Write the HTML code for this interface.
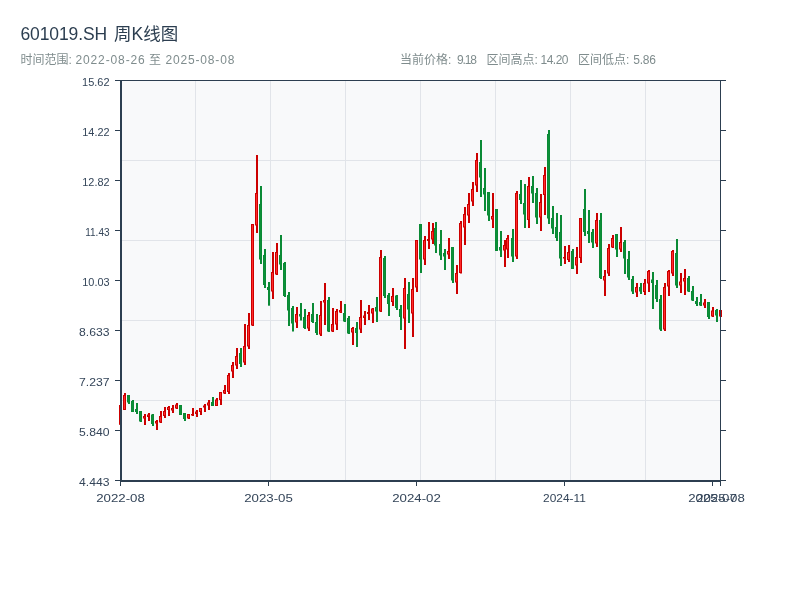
<!DOCTYPE html><html lang="zh"><head><meta charset="utf-8"><title>601019.SH 周K线图</title>
<style>html,body{margin:0;padding:0;background:#fff;}body{width:800px;height:600px;overflow:hidden;font-family:"Liberation Sans","Noto Sans CJK SC",sans-serif;}svg{display:block;}text{font-family:"Liberation Sans","Noto Sans CJK SC",sans-serif;}</style></head><body>
<svg width="800" height="600" viewBox="0 0 800 600">
<rect width="800" height="600" fill="#ffffff"/>
<text y="40.1" font-size="17.5" fill="#2c3e50"><tspan x="20.5" textLength="86.6" lengthAdjust="spacing">601019.SH</tspan><tspan x="114" textLength="64.2" lengthAdjust="spacing">周K线图</tspan></text>
<text y="63.5" font-size="12" fill="#7f8c8d"><tspan x="20.5">时间范围:</tspan><tspan x="75.4" textLength="69.4" lengthAdjust="spacing">2022-08-26</tspan><tspan x="149">至</tspan><tspan x="165.4" textLength="69" lengthAdjust="spacing">2025-08-08</tspan></text>
<text y="63.5" font-size="12" fill="#7f8c8d"><tspan x="400">当前价格:</tspan><tspan x="457" textLength="20" lengthAdjust="spacing">9.18</tspan></text>
<text y="63.5" font-size="12" fill="#7f8c8d"><tspan x="486.5">区间高点:</tspan><tspan x="540.5" textLength="28" lengthAdjust="spacing">14.20</tspan></text>
<text y="63.5" font-size="12" fill="#7f8c8d"><tspan x="578">区间低点:</tspan><tspan x="633.3" textLength="22.7" lengthAdjust="spacing">5.86</tspan></text>
<rect x="121" y="80" width="600" height="401" fill="#f8f9fa"/>
<rect x="195" y="81" width="1" height="399" fill="#e1e4e9"/><rect x="270" y="81" width="1" height="399" fill="#e1e4e9"/><rect x="345" y="81" width="1" height="399" fill="#e1e4e9"/><rect x="420" y="81" width="1" height="399" fill="#e1e4e9"/><rect x="495" y="81" width="1" height="399" fill="#e1e4e9"/><rect x="570" y="81" width="1" height="399" fill="#e1e4e9"/><rect x="645" y="81" width="1" height="399" fill="#e1e4e9"/><rect x="122" y="160" width="598" height="1" fill="#e1e4e9"/><rect x="122" y="240" width="598" height="1" fill="#e1e4e9"/><rect x="122" y="320" width="598" height="1" fill="#e1e4e9"/><rect x="122" y="400" width="598" height="1" fill="#e1e4e9"/>
<g><rect x="120" y="403" width="2" height="23" fill="#cc0000"/><rect x="119" y="405" width="3" height="19.8" fill="#cc0000"/><rect x="120" y="406" width="1" height="17.8" fill="#ff2a2a"/><rect x="124" y="393" width="2" height="17" fill="#cc0000"/><rect x="123" y="395" width="3" height="15" fill="#cc0000"/><rect x="124" y="396" width="1" height="13" fill="#ff2a2a"/><rect x="128" y="395" width="2" height="9" fill="#0a8a35"/><rect x="127" y="395" width="3" height="7.5" fill="#0a8a35"/><rect x="128" y="396" width="1" height="5.5" fill="#0c9038"/><rect x="132" y="400" width="2" height="12" fill="#0a8a35"/><rect x="131" y="401" width="3" height="11" fill="#0a8a35"/><rect x="132" y="402" width="1" height="9" fill="#0c9038"/><rect x="136" y="403" width="2" height="11" fill="#0a8a35"/><rect x="135" y="409" width="3" height="3" fill="#0a8a35"/><rect x="136" y="410" width="1" height="1" fill="#0c9038"/><rect x="140" y="411" width="2" height="11" fill="#0a8a35"/><rect x="139" y="411" width="3" height="10.5" fill="#0a8a35"/><rect x="140" y="412" width="1" height="8.5" fill="#0c9038"/><rect x="144" y="414" width="2" height="11" fill="#cc0000"/><rect x="143" y="416" width="3" height="2.5" fill="#cc0000"/><rect x="144" y="417" width="1" height="0.5" fill="#ff2a2a"/><rect x="148" y="413" width="2" height="8" fill="#cc0000"/><rect x="147" y="414.5" width="3" height="2.5" fill="#cc0000"/><rect x="148" y="415.5" width="1" height="0.5" fill="#ff2a2a"/><rect x="152" y="414" width="2" height="12" fill="#0a8a35"/><rect x="151" y="414.5" width="3" height="9.5" fill="#0a8a35"/><rect x="152" y="415.5" width="1" height="7.5" fill="#0c9038"/><rect x="156" y="420" width="2" height="10" fill="#cc0000"/><rect x="155" y="421" width="3" height="2.5" fill="#cc0000"/><rect x="156" y="422" width="1" height="0.5" fill="#ff2a2a"/><rect x="160" y="411" width="2" height="12" fill="#cc0000"/><rect x="159" y="416" width="3" height="6.5" fill="#cc0000"/><rect x="160" y="417" width="1" height="4.5" fill="#ff2a2a"/><rect x="164" y="407" width="2" height="11" fill="#cc0000"/><rect x="163" y="411" width="3" height="5" fill="#cc0000"/><rect x="164" y="412" width="1" height="3" fill="#ff2a2a"/><rect x="168" y="406" width="2" height="10" fill="#cc0000"/><rect x="167" y="407" width="3" height="3" fill="#cc0000"/><rect x="168" y="408" width="1" height="1" fill="#ff2a2a"/><rect x="172" y="405" width="2" height="8" fill="#cc0000"/><rect x="171" y="408" width="3" height="2.5" fill="#cc0000"/><rect x="172" y="409" width="1" height="0.5" fill="#ff2a2a"/><rect x="176" y="403" width="2" height="6" fill="#cc0000"/><rect x="175" y="404.5" width="3" height="4" fill="#cc0000"/><rect x="176" y="405.5" width="1" height="2" fill="#ff2a2a"/><rect x="180" y="405" width="2" height="10" fill="#0a8a35"/><rect x="179" y="405" width="3" height="10" fill="#0a8a35"/><rect x="180" y="406" width="1" height="8" fill="#0c9038"/><rect x="184" y="413" width="2" height="8" fill="#0a8a35"/><rect x="183" y="413" width="3" height="6" fill="#0a8a35"/><rect x="184" y="414" width="1" height="4" fill="#0c9038"/><rect x="188" y="414" width="2" height="5" fill="#cc0000"/><rect x="187" y="414" width="3" height="4.5" fill="#cc0000"/><rect x="188" y="415" width="1" height="2.5" fill="#ff2a2a"/><rect x="192" y="408" width="2" height="8" fill="#cc0000"/><rect x="191" y="414" width="3" height="1.5" fill="#cc0000"/><rect x="196" y="410" width="2" height="7" fill="#cc0000"/><rect x="195" y="411.5" width="3" height="2.5" fill="#cc0000"/><rect x="196" y="412.5" width="1" height="0.5" fill="#ff2a2a"/><rect x="200" y="408" width="2" height="7" fill="#cc0000"/><rect x="199" y="408" width="3" height="4" fill="#cc0000"/><rect x="200" y="409" width="1" height="2" fill="#ff2a2a"/><rect x="204" y="404" width="2" height="8" fill="#cc0000"/><rect x="203" y="405.5" width="3" height="2" fill="#cc0000"/><rect x="208" y="400" width="2" height="10" fill="#cc0000"/><rect x="207" y="402.5" width="3" height="3" fill="#cc0000"/><rect x="208" y="403.5" width="1" height="1" fill="#ff2a2a"/><rect x="212" y="397" width="2" height="9" fill="#0a8a35"/><rect x="211" y="402" width="3" height="4" fill="#0a8a35"/><rect x="212" y="403" width="1" height="2" fill="#0c9038"/><rect x="216" y="398" width="2" height="8" fill="#cc0000"/><rect x="215" y="399.5" width="3" height="6.5" fill="#cc0000"/><rect x="216" y="400.5" width="1" height="4.5" fill="#ff2a2a"/><rect x="220" y="392" width="2" height="13" fill="#cc0000"/><rect x="219" y="392" width="3" height="8" fill="#cc0000"/><rect x="220" y="393" width="1" height="6" fill="#ff2a2a"/><rect x="224" y="385" width="2" height="9" fill="#cc0000"/><rect x="223" y="390" width="3" height="3.5" fill="#cc0000"/><rect x="224" y="391" width="1" height="1.5" fill="#ff2a2a"/><rect x="228" y="373" width="2" height="21" fill="#cc0000"/><rect x="227" y="375" width="3" height="17" fill="#cc0000"/><rect x="228" y="376" width="1" height="15" fill="#ff2a2a"/><rect x="232" y="362" width="2" height="16" fill="#cc0000"/><rect x="231" y="365" width="3" height="6.5" fill="#cc0000"/><rect x="232" y="366" width="1" height="4.5" fill="#ff2a2a"/><rect x="236" y="348" width="2" height="21" fill="#cc0000"/><rect x="235" y="356" width="3" height="9.5" fill="#cc0000"/><rect x="236" y="357" width="1" height="7.5" fill="#ff2a2a"/><rect x="240" y="348" width="2" height="19" fill="#0a8a35"/><rect x="239" y="353" width="3" height="11" fill="#0a8a35"/><rect x="240" y="354" width="1" height="9" fill="#0c9038"/><rect x="244" y="324" width="2" height="41" fill="#cc0000"/><rect x="243" y="346" width="3" height="16.5" fill="#cc0000"/><rect x="244" y="347" width="1" height="14.5" fill="#ff2a2a"/><rect x="248" y="313" width="2" height="36" fill="#cc0000"/><rect x="247" y="325" width="3" height="21.5" fill="#cc0000"/><rect x="248" y="326" width="1" height="19.5" fill="#ff2a2a"/><rect x="252" y="224" width="2" height="102" fill="#cc0000"/><rect x="251" y="224" width="3" height="101.5" fill="#cc0000"/><rect x="252" y="225" width="1" height="99.5" fill="#ff2a2a"/><rect x="256" y="155" width="2" height="78" fill="#cc0000"/><rect x="255" y="193" width="3" height="32.5" fill="#cc0000"/><rect x="256" y="194" width="1" height="30.5" fill="#ff2a2a"/><rect x="260" y="186" width="2" height="78" fill="#0a8a35"/><rect x="259" y="204" width="3" height="55.5" fill="#0a8a35"/><rect x="260" y="205" width="1" height="53.5" fill="#0c9038"/><rect x="264" y="249" width="2" height="39" fill="#0a8a35"/><rect x="263" y="255" width="3" height="30" fill="#0a8a35"/><rect x="264" y="256" width="1" height="28" fill="#0c9038"/><rect x="268" y="282" width="2" height="23.7" fill="#0a8a35"/><rect x="267" y="287" width="3" height="3" fill="#0a8a35"/><rect x="268" y="288" width="1" height="1" fill="#0c9038"/><rect x="272" y="252" width="2" height="47" fill="#cc0000"/><rect x="271" y="272" width="3" height="19.5" fill="#cc0000"/><rect x="272" y="273" width="1" height="17.5" fill="#ff2a2a"/><rect x="276" y="243" width="2" height="32" fill="#cc0000"/><rect x="275" y="252" width="3" height="22.5" fill="#cc0000"/><rect x="276" y="253" width="1" height="20.5" fill="#ff2a2a"/><rect x="280" y="235" width="2" height="35" fill="#0a8a35"/><rect x="279" y="255" width="3" height="9.5" fill="#0a8a35"/><rect x="280" y="256" width="1" height="7.5" fill="#0c9038"/><rect x="284" y="262" width="2" height="35" fill="#0a8a35"/><rect x="283" y="263" width="3" height="33" fill="#0a8a35"/><rect x="284" y="264" width="1" height="31" fill="#0c9038"/><rect x="288" y="292" width="2" height="34" fill="#0a8a35"/><rect x="287" y="295" width="3" height="15.5" fill="#0a8a35"/><rect x="288" y="296" width="1" height="13.5" fill="#0c9038"/><rect x="292" y="306" width="2" height="25.5" fill="#0a8a35"/><rect x="291" y="308" width="3" height="15.5" fill="#0a8a35"/><rect x="292" y="309" width="1" height="13.5" fill="#0c9038"/><rect x="296" y="307" width="2" height="21" fill="#cc0000"/><rect x="295" y="314" width="3" height="8.5" fill="#cc0000"/><rect x="296" y="315" width="1" height="6.5" fill="#ff2a2a"/><rect x="300" y="303" width="2" height="17.5" fill="#0a8a35"/><rect x="299" y="314" width="3" height="2.5" fill="#0a8a35"/><rect x="300" y="315" width="1" height="0.5" fill="#0c9038"/><rect x="304" y="309" width="2" height="20" fill="#0a8a35"/><rect x="303" y="317" width="3" height="11" fill="#0a8a35"/><rect x="304" y="318" width="1" height="9" fill="#0c9038"/><rect x="308" y="312" width="2" height="19" fill="#cc0000"/><rect x="307" y="315" width="3" height="13.5" fill="#cc0000"/><rect x="308" y="316" width="1" height="11.5" fill="#ff2a2a"/><rect x="312" y="303" width="2" height="20" fill="#0a8a35"/><rect x="311" y="314" width="3" height="8" fill="#0a8a35"/><rect x="312" y="315" width="1" height="6" fill="#0c9038"/><rect x="316" y="314" width="2" height="21" fill="#0a8a35"/><rect x="315" y="322" width="3" height="11" fill="#0a8a35"/><rect x="316" y="323" width="1" height="9" fill="#0c9038"/><rect x="320" y="301" width="2" height="35" fill="#cc0000"/><rect x="319" y="315" width="3" height="19.5" fill="#cc0000"/><rect x="320" y="316" width="1" height="17.5" fill="#ff2a2a"/><rect x="324" y="283" width="2" height="42" fill="#cc0000"/><rect x="323" y="300" width="3" height="2.5" fill="#cc0000"/><rect x="324" y="301" width="1" height="0.5" fill="#ff2a2a"/><rect x="328" y="297" width="2" height="35" fill="#0a8a35"/><rect x="327" y="300" width="3" height="31.5" fill="#0a8a35"/><rect x="328" y="301" width="1" height="29.5" fill="#0c9038"/><rect x="332" y="308" width="2" height="24" fill="#cc0000"/><rect x="331" y="324" width="3" height="7.5" fill="#cc0000"/><rect x="332" y="325" width="1" height="5.5" fill="#ff2a2a"/><rect x="336" y="309" width="2" height="21" fill="#cc0000"/><rect x="335" y="311" width="3" height="13.5" fill="#cc0000"/><rect x="336" y="312" width="1" height="11.5" fill="#ff2a2a"/><rect x="340" y="301" width="2" height="12" fill="#cc0000"/><rect x="339" y="310" width="3" height="2.5" fill="#cc0000"/><rect x="340" y="311" width="1" height="0.5" fill="#ff2a2a"/><rect x="344" y="304" width="2" height="18" fill="#0a8a35"/><rect x="343" y="313" width="3" height="8.5" fill="#0a8a35"/><rect x="344" y="314" width="1" height="6.5" fill="#0c9038"/><rect x="348" y="316" width="2" height="18" fill="#0a8a35"/><rect x="347" y="318" width="3" height="15.5" fill="#0a8a35"/><rect x="348" y="319" width="1" height="13.5" fill="#0c9038"/><rect x="352" y="327" width="2" height="18" fill="#cc0000"/><rect x="351" y="328" width="3" height="4.5" fill="#cc0000"/><rect x="352" y="329" width="1" height="2.5" fill="#ff2a2a"/><rect x="356" y="322" width="2" height="25" fill="#0a8a35"/><rect x="355" y="328" width="3" height="5" fill="#0a8a35"/><rect x="356" y="329" width="1" height="3" fill="#0c9038"/><rect x="360" y="300" width="2" height="33" fill="#cc0000"/><rect x="359" y="317" width="3" height="12.5" fill="#cc0000"/><rect x="360" y="318" width="1" height="10.5" fill="#ff2a2a"/><rect x="364" y="311" width="2" height="14" fill="#cc0000"/><rect x="363" y="315.5" width="3" height="2.5" fill="#cc0000"/><rect x="364" y="316.5" width="1" height="0.5" fill="#ff2a2a"/><rect x="368" y="305" width="2" height="15" fill="#cc0000"/><rect x="367" y="312" width="3" height="2" fill="#cc0000"/><rect x="372" y="308" width="2" height="15" fill="#cc0000"/><rect x="371" y="308.5" width="3" height="5" fill="#cc0000"/><rect x="372" y="309.5" width="1" height="3" fill="#ff2a2a"/><rect x="376" y="297" width="2" height="25" fill="#0a8a35"/><rect x="375" y="307" width="3" height="4.5" fill="#0a8a35"/><rect x="376" y="308" width="1" height="2.5" fill="#0c9038"/><rect x="380" y="250" width="2" height="62" fill="#cc0000"/><rect x="379" y="257" width="3" height="54.5" fill="#cc0000"/><rect x="380" y="258" width="1" height="52.5" fill="#ff2a2a"/><rect x="384" y="256" width="2" height="42" fill="#0a8a35"/><rect x="383" y="258" width="3" height="38" fill="#0a8a35"/><rect x="384" y="259" width="1" height="36" fill="#0c9038"/><rect x="388" y="293" width="2" height="23" fill="#0a8a35"/><rect x="387" y="295" width="3" height="9" fill="#0a8a35"/><rect x="388" y="296" width="1" height="7" fill="#0c9038"/><rect x="392" y="288" width="2" height="18" fill="#cc0000"/><rect x="391" y="296" width="3" height="6" fill="#cc0000"/><rect x="392" y="297" width="1" height="4" fill="#ff2a2a"/><rect x="396" y="295" width="2" height="15" fill="#0a8a35"/><rect x="395" y="295.5" width="3" height="12.5" fill="#0a8a35"/><rect x="396" y="296.5" width="1" height="10.5" fill="#0c9038"/><rect x="400" y="305" width="2" height="25" fill="#0a8a35"/><rect x="399" y="309" width="3" height="8" fill="#0a8a35"/><rect x="400" y="310" width="1" height="6" fill="#0c9038"/><rect x="404" y="278" width="2" height="71" fill="#cc0000"/><rect x="403" y="288" width="3" height="30.5" fill="#cc0000"/><rect x="404" y="289" width="1" height="28.5" fill="#ff2a2a"/><rect x="408" y="282" width="2" height="41" fill="#0a8a35"/><rect x="407" y="294" width="3" height="15.5" fill="#0a8a35"/><rect x="408" y="295" width="1" height="13.5" fill="#0c9038"/><rect x="412" y="278" width="2" height="59" fill="#cc0000"/><rect x="411" y="289" width="3" height="24.5" fill="#cc0000"/><rect x="412" y="290" width="1" height="22.5" fill="#ff2a2a"/><rect x="416" y="240" width="2" height="52" fill="#cc0000"/><rect x="415" y="240" width="3" height="47.5" fill="#cc0000"/><rect x="416" y="241" width="1" height="45.5" fill="#ff2a2a"/><rect x="420" y="224" width="2" height="49" fill="#0a8a35"/><rect x="419" y="224" width="3" height="35.5" fill="#0a8a35"/><rect x="420" y="225" width="1" height="33.5" fill="#0c9038"/><rect x="424" y="236" width="2" height="29" fill="#cc0000"/><rect x="423" y="240" width="3" height="19.5" fill="#cc0000"/><rect x="424" y="241" width="1" height="17.5" fill="#ff2a2a"/><rect x="428" y="222" width="2" height="27" fill="#cc0000"/><rect x="427" y="239" width="3" height="2" fill="#cc0000"/><rect x="432" y="223" width="2" height="21" fill="#cc0000"/><rect x="431" y="231" width="3" height="8.5" fill="#cc0000"/><rect x="432" y="232" width="1" height="6.5" fill="#ff2a2a"/><rect x="435" y="222" width="2" height="31" fill="#0a8a35"/><rect x="434" y="228" width="3" height="17.5" fill="#0a8a35"/><rect x="435" y="229" width="1" height="15.5" fill="#0c9038"/><rect x="440" y="230" width="2" height="30" fill="#0a8a35"/><rect x="439" y="244" width="3" height="11.5" fill="#0a8a35"/><rect x="440" y="245" width="1" height="9.5" fill="#0c9038"/><rect x="444" y="249" width="2" height="21" fill="#0a8a35"/><rect x="443" y="253" width="3" height="3.5" fill="#0a8a35"/><rect x="444" y="254" width="1" height="1.5" fill="#0c9038"/><rect x="448" y="238" width="2" height="21" fill="#cc0000"/><rect x="447" y="251" width="3" height="3.5" fill="#cc0000"/><rect x="448" y="252" width="1" height="1.5" fill="#ff2a2a"/><rect x="452" y="247" width="2" height="36" fill="#0a8a35"/><rect x="451" y="247" width="3" height="33.5" fill="#0a8a35"/><rect x="452" y="248" width="1" height="31.5" fill="#0c9038"/><rect x="456" y="265" width="2" height="29" fill="#cc0000"/><rect x="455" y="273" width="3" height="9.5" fill="#cc0000"/><rect x="456" y="274" width="1" height="7.5" fill="#ff2a2a"/><rect x="460" y="221" width="2" height="52.5" fill="#cc0000"/><rect x="459" y="223" width="3" height="50" fill="#cc0000"/><rect x="460" y="224" width="1" height="48" fill="#ff2a2a"/><rect x="464" y="207" width="2" height="38" fill="#cc0000"/><rect x="463" y="214" width="3" height="13.5" fill="#cc0000"/><rect x="464" y="215" width="1" height="11.5" fill="#ff2a2a"/><rect x="468" y="193" width="2" height="30" fill="#cc0000"/><rect x="467" y="204" width="3" height="11.5" fill="#cc0000"/><rect x="468" y="205" width="1" height="9.5" fill="#ff2a2a"/><rect x="472" y="182" width="2" height="24" fill="#cc0000"/><rect x="471" y="189" width="3" height="12.5" fill="#cc0000"/><rect x="472" y="190" width="1" height="10.5" fill="#ff2a2a"/><rect x="476" y="153" width="2" height="39" fill="#cc0000"/><rect x="475" y="160" width="3" height="25.5" fill="#cc0000"/><rect x="476" y="161" width="1" height="23.5" fill="#ff2a2a"/><rect x="480" y="140" width="2" height="57" fill="#0a8a35"/><rect x="479" y="162" width="3" height="15.5" fill="#0a8a35"/><rect x="480" y="163" width="1" height="13.5" fill="#0c9038"/><rect x="484" y="168" width="2" height="43" fill="#0a8a35"/><rect x="483" y="188" width="3" height="6.5" fill="#0a8a35"/><rect x="484" y="189" width="1" height="4.5" fill="#0c9038"/><rect x="488" y="192" width="2" height="29" fill="#0a8a35"/><rect x="487" y="192" width="3" height="23.5" fill="#0a8a35"/><rect x="488" y="193" width="1" height="21.5" fill="#0c9038"/><rect x="492" y="193" width="2" height="35" fill="#cc0000"/><rect x="491" y="216" width="3" height="3.5" fill="#cc0000"/><rect x="492" y="217" width="1" height="1.5" fill="#ff2a2a"/><rect x="496" y="209" width="2" height="42" fill="#0a8a35"/><rect x="495" y="209" width="3" height="42" fill="#0a8a35"/><rect x="496" y="210" width="1" height="40" fill="#0c9038"/><rect x="500" y="231" width="2" height="26" fill="#0a8a35"/><rect x="499" y="247" width="3" height="3.5" fill="#0a8a35"/><rect x="500" y="248" width="1" height="1.5" fill="#0c9038"/><rect x="504" y="240" width="2" height="27" fill="#cc0000"/><rect x="503" y="245" width="3" height="5.5" fill="#cc0000"/><rect x="504" y="246" width="1" height="3.5" fill="#ff2a2a"/><rect x="507" y="235" width="2" height="23" fill="#cc0000"/><rect x="506" y="238" width="3" height="11.5" fill="#cc0000"/><rect x="507" y="239" width="1" height="9.5" fill="#ff2a2a"/><rect x="512" y="229" width="2" height="33" fill="#0a8a35"/><rect x="511" y="238" width="3" height="18.5" fill="#0a8a35"/><rect x="512" y="239" width="1" height="16.5" fill="#0c9038"/><rect x="516" y="191" width="2" height="68" fill="#cc0000"/><rect x="515" y="193" width="3" height="63.5" fill="#cc0000"/><rect x="516" y="194" width="1" height="61.5" fill="#ff2a2a"/><rect x="520" y="180" width="2" height="24" fill="#0a8a35"/><rect x="519" y="194" width="3" height="6" fill="#0a8a35"/><rect x="520" y="195" width="1" height="4" fill="#0c9038"/><rect x="524" y="184" width="2" height="44" fill="#0a8a35"/><rect x="523" y="203" width="3" height="11.5" fill="#0a8a35"/><rect x="524" y="204" width="1" height="9.5" fill="#0c9038"/><rect x="528" y="177" width="2" height="51" fill="#cc0000"/><rect x="527" y="186" width="3" height="34" fill="#cc0000"/><rect x="528" y="187" width="1" height="32" fill="#ff2a2a"/><rect x="532" y="176" width="2" height="27" fill="#0a8a35"/><rect x="531" y="186" width="3" height="7.5" fill="#0a8a35"/><rect x="532" y="187" width="1" height="5.5" fill="#0c9038"/><rect x="536" y="188" width="2" height="36" fill="#0a8a35"/><rect x="535" y="193" width="3" height="24.5" fill="#0a8a35"/><rect x="536" y="194" width="1" height="22.5" fill="#0c9038"/><rect x="540" y="194" width="2" height="37" fill="#cc0000"/><rect x="539" y="202" width="3" height="15.5" fill="#cc0000"/><rect x="540" y="203" width="1" height="13.5" fill="#ff2a2a"/><rect x="544" y="167" width="2" height="48" fill="#cc0000"/><rect x="543" y="175" width="3" height="20" fill="#cc0000"/><rect x="544" y="176" width="1" height="18" fill="#ff2a2a"/><rect x="548" y="130" width="2" height="94" fill="#0a8a35"/><rect x="547" y="134" width="3" height="84.5" fill="#0a8a35"/><rect x="548" y="135" width="1" height="82.5" fill="#0c9038"/><rect x="552" y="206" width="2" height="28" fill="#0a8a35"/><rect x="551" y="218" width="3" height="10.5" fill="#0a8a35"/><rect x="552" y="219" width="1" height="8.5" fill="#0c9038"/><rect x="556" y="213" width="2" height="28" fill="#0a8a35"/><rect x="555" y="227" width="3" height="11" fill="#0a8a35"/><rect x="556" y="228" width="1" height="9" fill="#0c9038"/><rect x="560" y="215" width="2" height="51" fill="#0a8a35"/><rect x="559" y="232" width="3" height="26.5" fill="#0a8a35"/><rect x="560" y="233" width="1" height="24.5" fill="#0c9038"/><rect x="564" y="246" width="2" height="18" fill="#cc0000"/><rect x="563" y="257" width="3" height="1.5" fill="#cc0000"/><rect x="568" y="245" width="2" height="17" fill="#cc0000"/><rect x="567" y="252" width="3" height="8" fill="#cc0000"/><rect x="568" y="253" width="1" height="6" fill="#ff2a2a"/><rect x="572" y="249" width="2" height="20" fill="#0a8a35"/><rect x="571" y="251" width="3" height="18" fill="#0a8a35"/><rect x="572" y="252" width="1" height="16" fill="#0c9038"/><rect x="576" y="247" width="2" height="27" fill="#cc0000"/><rect x="575" y="257" width="3" height="8.5" fill="#cc0000"/><rect x="576" y="258" width="1" height="6.5" fill="#ff2a2a"/><rect x="580" y="218" width="2" height="45" fill="#cc0000"/><rect x="579" y="218" width="3" height="40" fill="#cc0000"/><rect x="580" y="219" width="1" height="38" fill="#ff2a2a"/><rect x="584" y="189" width="2" height="47" fill="#0a8a35"/><rect x="583" y="209" width="3" height="23" fill="#0a8a35"/><rect x="584" y="210" width="1" height="21" fill="#0c9038"/><rect x="588" y="210" width="2" height="33" fill="#0a8a35"/><rect x="587" y="231" width="3" height="3" fill="#0a8a35"/><rect x="588" y="232" width="1" height="1" fill="#0c9038"/><rect x="592" y="229" width="2" height="19" fill="#0a8a35"/><rect x="591" y="232" width="3" height="10.5" fill="#0a8a35"/><rect x="592" y="233" width="1" height="8.5" fill="#0c9038"/><rect x="596" y="213" width="2" height="34" fill="#cc0000"/><rect x="595" y="220" width="3" height="23.5" fill="#cc0000"/><rect x="596" y="221" width="1" height="21.5" fill="#ff2a2a"/><rect x="600" y="213" width="2" height="66" fill="#0a8a35"/><rect x="599" y="220" width="3" height="58" fill="#0a8a35"/><rect x="600" y="221" width="1" height="56" fill="#0c9038"/><rect x="604" y="270" width="2" height="26" fill="#cc0000"/><rect x="603" y="276" width="3" height="4.5" fill="#cc0000"/><rect x="604" y="277" width="1" height="2.5" fill="#ff2a2a"/><rect x="608" y="244" width="2" height="32" fill="#cc0000"/><rect x="607" y="248" width="3" height="25.5" fill="#cc0000"/><rect x="608" y="249" width="1" height="23.5" fill="#ff2a2a"/><rect x="612" y="235" width="2" height="13" fill="#cc0000"/><rect x="611" y="238" width="3" height="9.5" fill="#cc0000"/><rect x="612" y="239" width="1" height="7.5" fill="#ff2a2a"/><rect x="616" y="234" width="2" height="23" fill="#0a8a35"/><rect x="615" y="234" width="3" height="15.5" fill="#0a8a35"/><rect x="616" y="235" width="1" height="13.5" fill="#0c9038"/><rect x="620" y="227" width="2" height="25" fill="#cc0000"/><rect x="619" y="242" width="3" height="7.5" fill="#cc0000"/><rect x="620" y="243" width="1" height="5.5" fill="#ff2a2a"/><rect x="624" y="240" width="2" height="34" fill="#0a8a35"/><rect x="623" y="242" width="3" height="16.5" fill="#0a8a35"/><rect x="624" y="243" width="1" height="14.5" fill="#0c9038"/><rect x="628" y="251" width="2" height="29" fill="#0a8a35"/><rect x="627" y="259" width="3" height="18.5" fill="#0a8a35"/><rect x="628" y="260" width="1" height="16.5" fill="#0c9038"/><rect x="632" y="276" width="2" height="18" fill="#0a8a35"/><rect x="631" y="279" width="3" height="12.5" fill="#0a8a35"/><rect x="632" y="280" width="1" height="10.5" fill="#0c9038"/><rect x="636" y="283" width="2" height="14" fill="#cc0000"/><rect x="635" y="287" width="3" height="5.5" fill="#cc0000"/><rect x="636" y="288" width="1" height="3.5" fill="#ff2a2a"/><rect x="640" y="283" width="2" height="11" fill="#0a8a35"/><rect x="639" y="287" width="3" height="4.5" fill="#0a8a35"/><rect x="640" y="288" width="1" height="2.5" fill="#0c9038"/><rect x="644" y="279" width="2" height="16" fill="#cc0000"/><rect x="643" y="283" width="3" height="9" fill="#cc0000"/><rect x="644" y="284" width="1" height="7" fill="#ff2a2a"/><rect x="648" y="270" width="2" height="22" fill="#cc0000"/><rect x="647" y="271" width="3" height="12.5" fill="#cc0000"/><rect x="648" y="272" width="1" height="10.5" fill="#ff2a2a"/><rect x="652" y="272" width="2" height="37" fill="#0a8a35"/><rect x="651" y="279.5" width="3" height="3.5" fill="#0a8a35"/><rect x="652" y="280.5" width="1" height="1.5" fill="#0c9038"/><rect x="656" y="280" width="2" height="22" fill="#0a8a35"/><rect x="655" y="285" width="3" height="14" fill="#0a8a35"/><rect x="656" y="286" width="1" height="12" fill="#0c9038"/><rect x="660" y="295" width="2" height="36" fill="#0a8a35"/><rect x="659" y="299" width="3" height="30.5" fill="#0a8a35"/><rect x="660" y="300" width="1" height="28.5" fill="#0c9038"/><rect x="664" y="283" width="2" height="48" fill="#cc0000"/><rect x="663" y="287" width="3" height="42.5" fill="#cc0000"/><rect x="664" y="288" width="1" height="40.5" fill="#ff2a2a"/><rect x="668" y="270" width="2" height="26" fill="#cc0000"/><rect x="667" y="271" width="3" height="15.5" fill="#cc0000"/><rect x="668" y="272" width="1" height="13.5" fill="#ff2a2a"/><rect x="672" y="250" width="2" height="26" fill="#cc0000"/><rect x="671" y="251" width="3" height="22.5" fill="#cc0000"/><rect x="672" y="252" width="1" height="20.5" fill="#ff2a2a"/><rect x="676" y="239" width="2" height="49" fill="#0a8a35"/><rect x="675" y="253" width="3" height="32.5" fill="#0a8a35"/><rect x="676" y="254" width="1" height="30.5" fill="#0c9038"/><rect x="680" y="273" width="2" height="20" fill="#cc0000"/><rect x="679" y="281.5" width="3" height="4" fill="#cc0000"/><rect x="680" y="282.5" width="1" height="2" fill="#ff2a2a"/><rect x="684" y="269" width="2" height="26" fill="#cc0000"/><rect x="683" y="278" width="3" height="3.5" fill="#cc0000"/><rect x="684" y="279" width="1" height="1.5" fill="#ff2a2a"/><rect x="688" y="276" width="2" height="16" fill="#0a8a35"/><rect x="687" y="278" width="3" height="13.5" fill="#0a8a35"/><rect x="688" y="279" width="1" height="11.5" fill="#0c9038"/><rect x="692" y="286" width="2" height="15" fill="#0a8a35"/><rect x="691" y="291" width="3" height="9.5" fill="#0a8a35"/><rect x="692" y="292" width="1" height="7.5" fill="#0c9038"/><rect x="696" y="297" width="2" height="9" fill="#0a8a35"/><rect x="695" y="301" width="3" height="3" fill="#0a8a35"/><rect x="696" y="302" width="1" height="1" fill="#0c9038"/><rect x="700" y="294" width="2" height="12" fill="#0a8a35"/><rect x="699" y="302" width="3" height="3.5" fill="#0a8a35"/><rect x="700" y="303" width="1" height="1.5" fill="#0c9038"/><rect x="704" y="299" width="2" height="9" fill="#cc0000"/><rect x="703" y="302.5" width="3" height="3" fill="#cc0000"/><rect x="704" y="303.5" width="1" height="1" fill="#ff2a2a"/><rect x="708" y="302" width="2" height="17" fill="#0a8a35"/><rect x="707" y="302" width="3" height="15" fill="#0a8a35"/><rect x="708" y="303" width="1" height="13" fill="#0c9038"/><rect x="712" y="307" width="2" height="10" fill="#cc0000"/><rect x="711" y="310.5" width="3" height="6" fill="#cc0000"/><rect x="712" y="311.5" width="1" height="4" fill="#ff2a2a"/><rect x="716" y="309" width="2" height="13" fill="#0a8a35"/><rect x="715" y="310" width="3" height="5.5" fill="#0a8a35"/><rect x="716" y="311" width="1" height="3.5" fill="#0c9038"/><rect x="720" y="310" width="2" height="7" fill="#cc0000"/><rect x="719" y="310" width="3" height="6.5" fill="#cc0000"/><rect x="720" y="311" width="1" height="4.5" fill="#ff2a2a"/></g>
<rect x="120" y="80" width="2" height="402" fill="#2c3e50"/>
<rect x="120" y="480" width="601" height="2" fill="#2c3e50"/>
<rect x="120" y="80" width="601" height="1" fill="#2c3e50"/>
<rect x="720" y="80" width="1" height="402" fill="#2c3e50"/>
<rect x="115" y="80" width="6" height="1" fill="#2c3e50"/>
<rect x="721" y="80" width="5" height="1" fill="#2c3e50"/>
<text x="82.10" y="86" font-size="11" fill="#344559" textLength="27.50" lengthAdjust="spacingAndGlyphs">15.62</text>
<rect x="115" y="130" width="6" height="1" fill="#2c3e50"/>
<rect x="721" y="130" width="5" height="1" fill="#2c3e50"/>
<text x="82.30" y="136" font-size="11" fill="#344559" textLength="27.30" lengthAdjust="spacingAndGlyphs">14.22</text>
<rect x="115" y="180" width="6" height="1" fill="#2c3e50"/>
<rect x="721" y="180" width="5" height="1" fill="#2c3e50"/>
<text x="82.30" y="186" font-size="11" fill="#344559" textLength="27.30" lengthAdjust="spacingAndGlyphs">12.82</text>
<rect x="115" y="230" width="6" height="1" fill="#2c3e50"/>
<rect x="721" y="230" width="5" height="1" fill="#2c3e50"/>
<text x="85.20" y="236" font-size="11" fill="#344559" textLength="24.40" lengthAdjust="spacingAndGlyphs">11.43</text>
<rect x="115" y="280" width="6" height="1" fill="#2c3e50"/>
<rect x="721" y="280" width="5" height="1" fill="#2c3e50"/>
<text x="82.30" y="286" font-size="11" fill="#344559" textLength="27.30" lengthAdjust="spacingAndGlyphs">10.03</text>
<rect x="115" y="330" width="6" height="1" fill="#2c3e50"/>
<rect x="721" y="330" width="5" height="1" fill="#2c3e50"/>
<text x="79.10" y="336" font-size="11" fill="#344559" textLength="30.50" lengthAdjust="spacingAndGlyphs">8.633</text>
<rect x="115" y="380" width="6" height="1" fill="#2c3e50"/>
<rect x="721" y="380" width="5" height="1" fill="#2c3e50"/>
<text x="79.10" y="386" font-size="11" fill="#344559" textLength="30.50" lengthAdjust="spacingAndGlyphs">7.237</text>
<rect x="115" y="430" width="6" height="1" fill="#2c3e50"/>
<rect x="721" y="430" width="5" height="1" fill="#2c3e50"/>
<text x="79.10" y="436" font-size="11" fill="#344559" textLength="30.50" lengthAdjust="spacingAndGlyphs">5.840</text>
<rect x="115" y="480" width="6" height="1" fill="#2c3e50"/>
<rect x="721" y="480" width="5" height="1" fill="#2c3e50"/>
<text x="79.10" y="486" font-size="11" fill="#344559" textLength="30.50" lengthAdjust="spacingAndGlyphs">4.443</text>
<rect x="120" y="481" width="1" height="5" fill="#2c3e50"/>
<text x="96.20" y="502" font-size="11" fill="#344559" textLength="48.6" lengthAdjust="spacingAndGlyphs">2022-08</text>
<rect x="268" y="481" width="1" height="5" fill="#2c3e50"/>
<text x="244.20" y="502" font-size="11" fill="#344559" textLength="48.6" lengthAdjust="spacingAndGlyphs">2023-05</text>
<rect x="416" y="481" width="1" height="5" fill="#2c3e50"/>
<text x="392.20" y="502" font-size="11" fill="#344559" textLength="48.6" lengthAdjust="spacingAndGlyphs">2024-02</text>
<rect x="564" y="481" width="1" height="5" fill="#2c3e50"/>
<text x="543.10" y="502" font-size="11" fill="#344559" textLength="42.8" lengthAdjust="spacingAndGlyphs">2024-11</text>
<rect x="712" y="481" width="1" height="5" fill="#2c3e50"/>
<text x="688.20" y="502" font-size="11" fill="#344559" textLength="48.6" lengthAdjust="spacingAndGlyphs">2025-07</text>
<rect x="720" y="481" width="1" height="5" fill="#2c3e50"/>
<text x="696.20" y="502" font-size="11" fill="#344559" textLength="48.6" lengthAdjust="spacingAndGlyphs">2025-08</text>
</svg></body></html>
